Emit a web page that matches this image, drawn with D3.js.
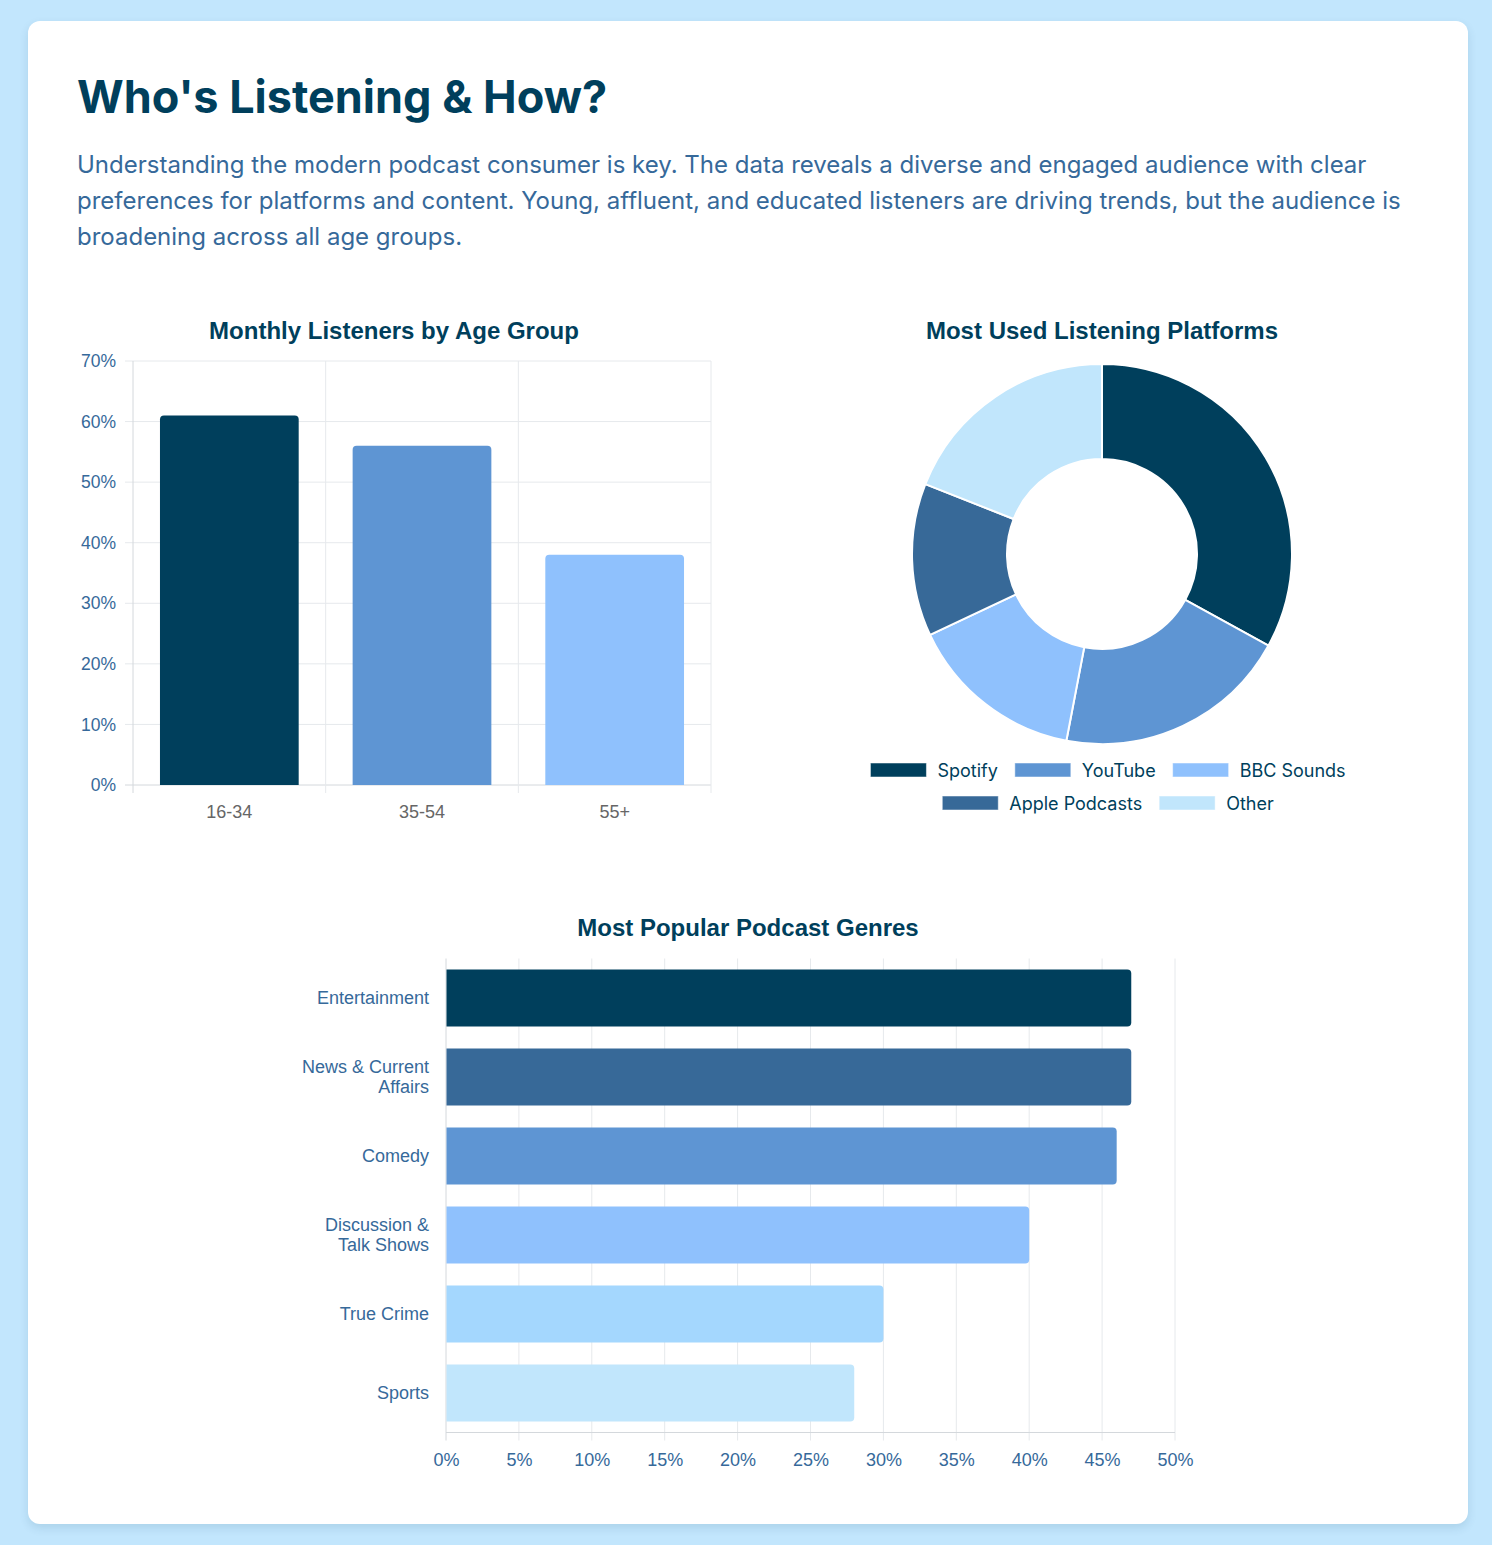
<!DOCTYPE html>
<html>
<head>
<meta charset="utf-8">
<script src="https://cdn.jsdelivr.net/npm/d3@7/dist/d3.min.js"></script>
<style>
  html, body { margin: 0; padding: 0; }
  body { width: 1492px; height: 1545px; background: #c2e6fd; position: relative; overflow: hidden; }
  #card { position: absolute; left: 28px; top: 21px; width: 1440px; height: 1503px; background: #fff;
          border-radius: 12px; box-shadow: 0 4px 10px rgba(0, 63, 92, 0.12); }
  svg { position: absolute; left: 0; top: 0; }
</style>
</head>
<body>
<div id="card"></div>
<svg id="chart" width="1492" height="1545"></svg>
<script>
// ---------------- DATA ----------------
const pageTitle = "Who's Listening & How?";
const introLines = [
  "Understanding the modern podcast consumer is key. The data reveals a diverse and engaged audience with clear",
  "preferences for platforms and content. Young, affluent, and educated listeners are driving trends, but the audience is",
  "broadening across all age groups."
];

const ageTitle = "Monthly Listeners by Age Group";
const ageGroups = ["16-34", "35-54", "55+"];
const ageValues = [61, 56, 38];
const ageColors = ["#003f5c", "#5e95d3", "#8fc1fd"];
const ageTicks = [0, 10, 20, 30, 40, 50, 60, 70];

const platformTitle = "Most Used Listening Platforms";
const platforms = ["Spotify", "YouTube", "BBC Sounds", "Apple Podcasts", "Other"];
const platformValues = [33, 20, 15, 13, 19];
const platformColors = ["#003f5c", "#5e95d3", "#8fc1fd", "#376998", "#c1e6fc"];
const legendRows = [["Spotify", "YouTube", "BBC Sounds"], ["Apple Podcasts", "Other"]];

const genreTitle = "Most Popular Podcast Genres";
const genres = ["Entertainment", "News & Current Affairs", "Comedy", "Discussion & Talk Shows", "True Crime", "Sports"];
const genreLabelLines = [["Entertainment"], ["News & Current", "Affairs"], ["Comedy"], ["Discussion &", "Talk Shows"], ["True Crime"], ["Sports"]];
const genreValues = [47, 47, 46, 40, 30, 28];
const genreColors = ["#003f5c", "#376998", "#5e95d3", "#8fc1fd", "#a4d7fe", "#c1e6fc"];
const genreTicks = [0, 5, 10, 15, 20, 25, 30, 35, 40, 45, 50];

// ---------------- STYLE ----------------
const dark = "#003f5c";
const mid = "#36699a";
const gridColor = "#e6e9ec";
const axisColor = "#d4d8dc";
const chartFont = "'Liberation Sans', Arial, Helvetica, sans-serif";
const uiFont = "Inter, 'Noto Sans', sans-serif";
const tickSize = 18;

const svg = d3.select("#chart");

// Header
svg.append("text").attr("x", 77).attr("y", 113)
  .attr("font-family", uiFont).attr("font-weight", 700).attr("font-size", 45)
  .attr("fill", dark).text(pageTitle);

svg.append("g").selectAll("text").data(introLines).join("text")
  .attr("x", 77).attr("y", (d, i) => 173 + i * 36)
  .attr("font-family", uiFont).attr("font-size", 24).attr("fill", mid)
  .text(d => d);

// rounded-end bar path helper
function roundedRect(x, y, w, h, r, side) {
  r = Math.min(r, w / 2, h / 2);
  if (side === "top") {
    return `M${x},${y + h}V${y + r}Q${x},${y} ${x + r},${y}H${x + w - r}Q${x + w},${y} ${x + w},${y + r}V${y + h}Z`;
  }
  return `M${x},${y}H${x + w - r}Q${x + w},${y} ${x + w},${y + r}V${y + h - r}Q${x + w},${y + h} ${x + w - r},${y + h}H${x}Z`;
}

// ---------------- AGE BAR CHART ----------------
(function () {
  const left = 133, right = 711, top = 361, bottom = 785;
  const g = svg.append("g");
  g.append("text").attr("x", 394).attr("y", 339)
    .attr("text-anchor", "middle").attr("font-family", chartFont).attr("font-weight", 700)
    .attr("font-size", 24).attr("fill", dark).text(ageTitle);

  const x = d3.scaleBand().domain(ageGroups).range([left, right]).paddingInner(0.28).paddingOuter(0.14);
  const y = d3.scaleLinear().domain([0, 70]).range([bottom, top]);
  const step = x.step();

  g.append("g").selectAll("line").data(ageTicks).join("line")
    .attr("x1", left - 8).attr("x2", right)
    .attr("y1", d => y(d)).attr("y2", d => y(d))
    .attr("stroke", d => d === 0 ? axisColor : gridColor).attr("stroke-width", 1);
  const bounds = d3.range(ageGroups.length + 1).map(i => left + i * step);
  g.append("g").selectAll("line").data(bounds).join("line")
    .attr("x1", d => d).attr("x2", d => d).attr("y1", top).attr("y2", bottom + 8)
    .attr("stroke", (d, i) => i === 0 ? axisColor : gridColor).attr("stroke-width", 1);

  const yAxis = d3.axisLeft(y).tickValues(ageTicks).tickFormat(d => d + "%").tickSize(0).tickPadding(17);
  const ya = g.append("g").attr("transform", `translate(${left},0)`).call(yAxis);
  ya.select(".domain").remove();
  ya.selectAll("text").attr("font-family", chartFont).attr("font-size", 17.5).attr("fill", mid);

  const xAxis = d3.axisBottom(x).tickSize(0).tickPadding(20);
  const xa = g.append("g").attr("transform", `translate(0,${bottom})`).call(xAxis);
  xa.select(".domain").remove();
  xa.selectAll("text").attr("font-family", chartFont).attr("font-size", tickSize).attr("fill", "#666");

  g.append("g").selectAll("path").data(ageGroups).join("path")
    .attr("d", (d, i) => roundedRect(x(d), y(ageValues[i]), x.bandwidth(), y(0) - y(ageValues[i]), 4, "top"))
    .attr("fill", (d, i) => ageColors[i]);
})();

// ---------------- PLATFORM DONUT ----------------
(function () {
  const cx = 1102, cy = 554, outer = 190, inner = 95;
  const g = svg.append("g");
  g.append("text").attr("x", cx).attr("y", 339)
    .attr("text-anchor", "middle").attr("font-family", chartFont).attr("font-weight", 700)
    .attr("font-size", 24).attr("fill", dark).text(platformTitle);

  const pie = d3.pie().sort(null).value(d => d)(platformValues);
  const arc = d3.arc().innerRadius(inner).outerRadius(outer);
  g.append("g").attr("transform", `translate(${cx},${cy})`)
    .selectAll("path").data(pie).join("path")
    .attr("d", arc).attr("fill", (d, i) => platformColors[i])
    .attr("stroke", "#fff").attr("stroke-width", 2).attr("stroke-linejoin", "round");

  const boxW = 56, boxH = 14, textGap = 11, itemGap = 17;
  const lg = g.append("g");
  legendRows.forEach((row, ri) => {
    const cyRow = 770 + ri * 33;
    const items = row.map(name => {
      const t = lg.append("text").attr("font-family", uiFont).attr("font-size", 18)
        .attr("fill", dark).attr("dominant-baseline", "central").text(name);
      return { name, t, w: t.node().getComputedTextLength() };
    });
    const total = d3.sum(items, d => boxW + textGap + d.w) + itemGap * (items.length - 1);
    let xPos = 1108 - total / 2;
    items.forEach(it => {
      const idx = platforms.indexOf(it.name);
      lg.append("rect").attr("x", xPos).attr("y", cyRow - boxH / 2).attr("width", boxW).attr("height", boxH)
        .attr("fill", platformColors[idx]).attr("stroke", "rgba(255,255,255,0.5)").attr("stroke-width", 1);
      it.t.attr("x", xPos + boxW + textGap).attr("y", cyRow);
      xPos += boxW + textGap + it.w + itemGap;
    });
  });
})();

// ---------------- GENRE HORIZONTAL BARS ----------------
(function () {
  const left = 446, right = 1175, top = 958.5, bottom = 1432.5;
  const g = svg.append("g");
  g.append("text").attr("x", 748).attr("y", 936)
    .attr("text-anchor", "middle").attr("font-family", chartFont).attr("font-weight", 700)
    .attr("font-size", 24).attr("fill", dark).text(genreTitle);

  const x = d3.scaleLinear().domain([0, 50]).range([left, right]);
  const y = d3.scaleBand().domain(genres).range([top, bottom]).paddingInner(0.28).paddingOuter(0.14);

  g.append("g").selectAll("line").data(genreTicks).join("line")
    .attr("x1", d => x(d)).attr("x2", d => x(d)).attr("y1", top).attr("y2", bottom + 8)
    .attr("stroke", d => d === 0 ? axisColor : gridColor).attr("stroke-width", 1);
  g.append("line").attr("x1", left).attr("x2", right).attr("y1", bottom).attr("y2", bottom)
    .attr("stroke", axisColor).attr("stroke-width", 1);

  const xAxis = d3.axisBottom(x).tickValues(genreTicks).tickFormat(d => d + "%").tickSize(0).tickPadding(21);
  const xa = g.append("g").attr("transform", `translate(0,${bottom})`).call(xAxis);
  xa.select(".domain").remove();
  xa.selectAll("text").attr("font-family", chartFont).attr("font-size", tickSize).attr("fill", mid);

  const lab = g.append("g").selectAll("text").data(genres).join("text")
    .attr("text-anchor", "end").attr("font-family", chartFont).attr("font-size", tickSize).attr("fill", mid);
  lab.each(function (d, i) {
    const lines = genreLabelLines[i];
    const c = y(d) + y.bandwidth() / 2;
    const startY = c - (lines.length - 1) * 10;
    d3.select(this).selectAll("tspan").data(lines).join("tspan")
      .attr("x", 429).attr("y", (l, j) => startY + j * 20).attr("dy", "0.35em").text(l => l);
  });

  g.append("g").selectAll("path").data(genres).join("path")
    .attr("d", (d, i) => roundedRect(x(0) + 0.5, y(d), x(genreValues[i]) - x(0) - 0.5, y.bandwidth(), 4, "right"))
    .attr("fill", (d, i) => genreColors[i]);
})();
</script>
</body>
</html>
